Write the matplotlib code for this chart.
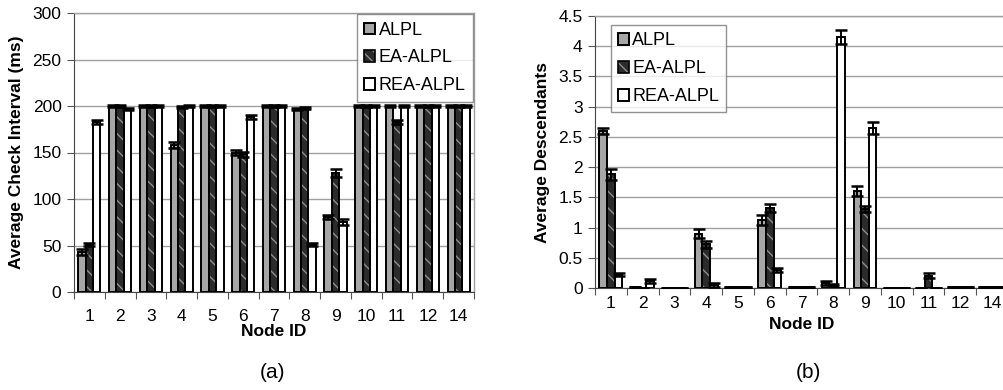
import numpy as np
import matplotlib
matplotlib.use("Agg")
import matplotlib.pyplot as plt
from matplotlib.patches import Patch

plt.rcParams["font.family"] = ["Liberation Sans", "DejaVu Sans"]

NODE_IDS = ["1", "2", "3", "4", "5", "6", "7", "8", "9", "10", "11", "12", "14"]
SERIES = ["ALPL", "EA-ALPL", "REA-ALPL"]

# (a) average check interval, ms
CHECK_ALPL = [43, 200, 200, 158, 200, 150, 200, 197, 81, 200, 200, 200, 200]
CHECK_EA = [51, 200, 200, 199, 200, 148, 200, 198, 128, 200, 183, 200, 200]
CHECK_REA = [183, 197, 200, 200, 200, 188, 200, 51, 75, 200, 200, 200, 200]
CHECK_ALPL_ERR = [3, 1, 1, 3, 1, 3, 1, 1, 2, 1, 1, 1, 1]
CHECK_EA_ERR = [2, 1, 1, 1, 1, 3, 1, 1, 4, 1, 2, 1, 1]
CHECK_REA_ERR = [2, 1, 1, 1, 1, 2, 1, 2, 3, 1, 1, 1, 1]

# (b) average descendants
DESC_ALPL = [2.6, 0.02, 0.0, 0.9, 0.02, 1.12, 0.02, 0.08, 1.6, 0.0, 0.0, 0.02, 0.01]
DESC_EA = [1.88, 0.0, 0.0, 0.72, 0.02, 1.32, 0.02, 0.05, 1.3, 0.0, 0.2, 0.02, 0.01]
DESC_REA = [0.22, 0.12, 0.0, 0.05, 0.01, 0.3, 0.01, 4.15, 2.65, 0.0, 0.0, 0.01, 0.01]
DESC_ALPL_ERR = [0.05, 0.0, 0.0, 0.08, 0.0, 0.08, 0.0, 0.03, 0.08, 0.0, 0.0, 0.0, 0.0]
DESC_EA_ERR = [0.09, 0.0, 0.0, 0.05, 0.0, 0.07, 0.0, 0.02, 0.05, 0.0, 0.04, 0.0, 0.0]
DESC_REA_ERR = [0.02, 0.03, 0.0, 0.04, 0.0, 0.03, 0.0, 0.12, 0.1, 0.0, 0.0, 0.0, 0.0]

GRAY = "#a6a6a6"
DARK = "#2b2b2b"
STRIPE = "#8c8c8c"
GRID = "#a0a0a0"
BAR_W = 0.24


def draw_panel(ax, values, errors, ymax, ystep, ylabel, legend_loc, legend_anchor,
               tick_pad, xlabel_pad):
    x = np.arange(len(NODE_IDS))
    handles = []
    for i, (vals, errs) in enumerate(zip(values, errors)):
        pos = x + (i - 1) * BAR_W
        if i == 0:
            bars = ax.bar(pos, vals, BAR_W, color=GRAY, edgecolor="black",
                          linewidth=1.4, zorder=3)
            handles.append(bars[0])
        elif i == 1:
            ax.bar(pos, vals, BAR_W, color=DARK, edgecolor=STRIPE, hatch="\\\\",
                   linewidth=0, zorder=3)
            ax.bar(pos, vals, BAR_W, color="none", edgecolor="black",
                   linewidth=1.4, zorder=3.1)
            handles.append((Patch(facecolor=DARK, edgecolor=STRIPE, hatch="\\\\\\", linewidth=0),
                            Patch(facecolor="none", edgecolor="black", linewidth=1.2)))
        else:
            bars = ax.bar(pos, vals, BAR_W, color="white", edgecolor="black",
                          linewidth=1.4, zorder=3)
            handles.append(bars[0])
        ax.errorbar(pos, vals, yerr=errs, fmt="none", ecolor="black",
                    elinewidth=1.4, capsize=4.2, capthick=1.8, zorder=4)

    ax.set_xlim(-0.5, len(NODE_IDS) - 0.5)
    ax.set_ylim(0, ymax)
    ax.set_yticks(np.arange(0, ymax + ystep / 2, ystep))
    ax.yaxis.grid(True, color=GRID, linewidth=1.0, zorder=0)
    ax.set_axisbelow(True)

    ax.set_xticks(np.arange(len(NODE_IDS) + 1) - 0.5)
    ax.set_xticklabels([])
    ax.set_xticks(x, minor=True)
    ax.set_xticklabels(NODE_IDS, minor=True)
    ax.tick_params(axis="x", which="major", length=5, color="#555555", direction="out")
    ax.tick_params(axis="x", which="minor", length=0, pad=tick_pad, labelsize=12.5)
    ax.tick_params(axis="y", length=5, color="#555555", labelsize=12.5, pad=4)

    for side in ("top", "right"):
        ax.spines[side].set_color(GRID)
        ax.spines[side].set_linewidth(1.0)
    ax.spines["left"].set_color("#444444")
    ax.spines["bottom"].set_color("#444444")

    ax.set_xlabel("Node ID", fontsize=12.5, weight="bold", labelpad=xlabel_pad)
    ax.set_ylabel(ylabel, fontsize=12.5, weight="bold", labelpad=6)

    leg = ax.legend(handles, SERIES, loc=legend_loc, bbox_to_anchor=legend_anchor,
                    fontsize=13, frameon=True, fancybox=False, edgecolor="#777777",
                    handlelength=0.6, handleheight=0.6, handletextpad=0.2,
                    labelspacing=0.6, borderpad=0.4, borderaxespad=0)
    leg.get_frame().set_linewidth(1.0)
    leg.set_zorder(5)


fig = plt.figure(figsize=(10.04, 3.90), dpi=100)
ax_a = fig.add_axes([74 / 1004, 1 - 292 / 390, 400 / 1004, 279 / 390])
ax_b = fig.add_axes([595 / 1004, 1 - 288 / 390, 413 / 1004, 272 / 390])

draw_panel(ax_a, [CHECK_ALPL, CHECK_EA, CHECK_REA],
           [CHECK_ALPL_ERR, CHECK_EA_ERR, CHECK_REA_ERR],
           300, 50, "Average Check Interval (ms)", "upper right", (0.9975, 0.995),
           tick_pad=12, xlabel_pad=0)
draw_panel(ax_b, [DESC_ALPL, DESC_EA, DESC_REA],
           [DESC_ALPL_ERR, DESC_EA_ERR, DESC_REA_ERR],
           4.5, 0.5, "Average Descendants", "upper left", (0.038, 0.966),
           tick_pad=6, xlabel_pad=4)
ax_b.set_yticklabels(["0", "0.5", "1", "1.5", "2", "2.5", "3", "3.5", "4", "4.5"])

fig.text(273 / 1004, 1 - 372 / 390, "(a)", ha="center", va="center", fontsize=15)
fig.text(808 / 1004, 1 - 372 / 390, "(b)", ha="center", va="center", fontsize=15)

fig.savefig("out.png", dpi=100, facecolor="white")
